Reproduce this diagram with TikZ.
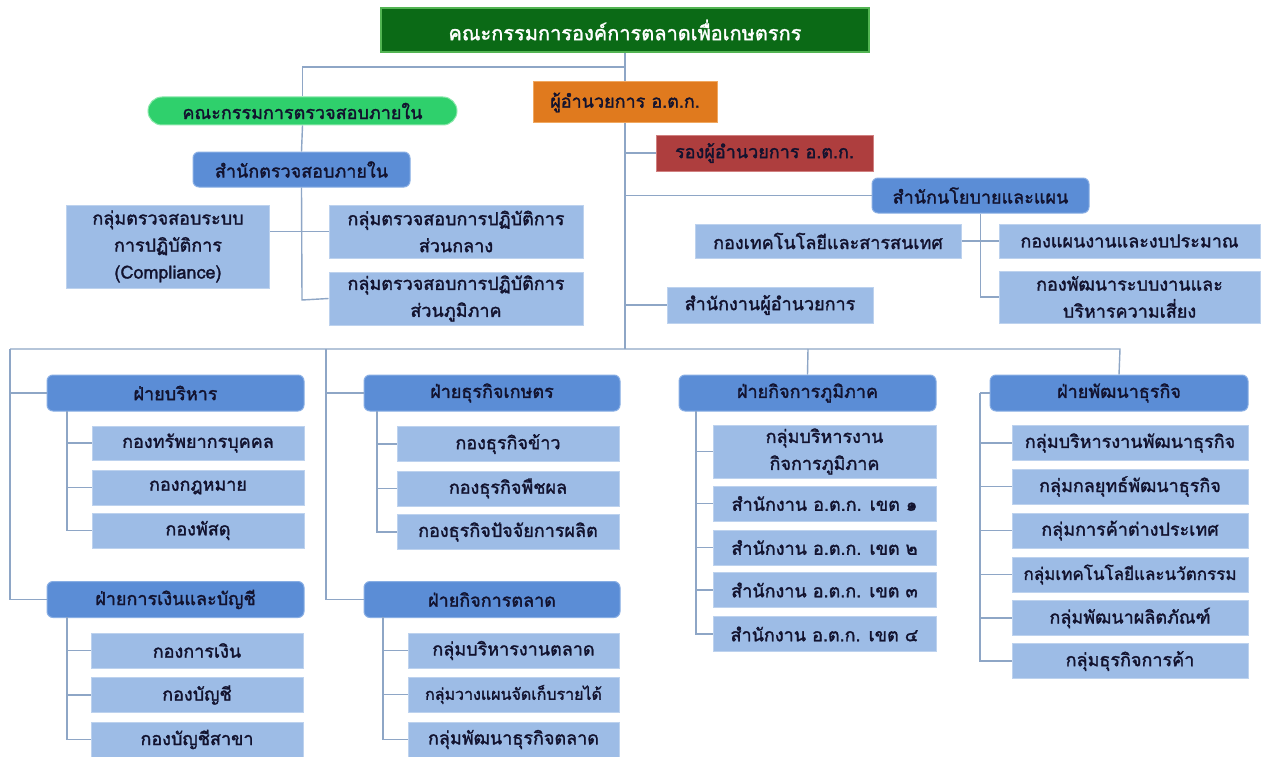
\documentclass[tikz,border=0pt]{standalone}
\usepackage{fontspec}
\newfontfamily\thaifont[Script=Thai, FakeBold=1.6]{Loma}
\definecolor{topg}{HTML}{0B6A16}
\definecolor{topgb}{HTML}{52B452}
\definecolor{pillg}{HTML}{2FD06C}
\definecolor{pillgb}{HTML}{8CE8AC}
\definecolor{orng}{HTML}{E07A1E}
\definecolor{orngb}{HTML}{F0A860}
\definecolor{redb}{HTML}{AE3E3E}
\definecolor{redbb}{HTML}{D08080}
\definecolor{headb}{HTML}{5B8DD6}
\definecolor{headbb}{HTML}{88AEE4}
\definecolor{lightb}{HTML}{9DBCE6}
\definecolor{lightbb}{HTML}{BDD2EE}
\definecolor{linec}{HTML}{8EA6C6}
\definecolor{txt}{HTML}{12122E}
\tikzset{
  base/.style={inner sep=0pt, align=center, text=txt, font=\thaifont\fontsize{18}{27}\selectfont, line width=1pt},
  lb/.style={base, fill=lightb, draw=lightbb},
  hb/.style={base, fill=headb, draw=headbb, rounded corners=6pt},
  ln/.style={draw=linec, line width=1.4pt},
}
\begin{document}
\begin{tikzpicture}[x=1pt,y=-1pt]
\useasboundingbox[fill=white] (0,0) rectangle (1268,757);
% top level
\node[base, fill=topg, draw=topgb, line width=2pt, text=white, minimum width=488, minimum height=44, font=\thaifont\fontsize{20}{24}\selectfont] (top) at (625,30) {คณะกรรมการองค์การตลาดเพื่อเกษตรกร};
\node[base, fill=pillg, draw=pillgb, rounded corners=14pt, minimum width=309, minimum height=28] (pill) at (302.5,111) {คณะกรรมการตรวจสอบภายใน};
\node[base, fill=orng, draw=orngb, minimum width=184, minimum height=41] (dir) at (625,102.5) {ผู้อำนวยการ อ.ต.ก.};
\node[base, fill=redb, draw=redbb, minimum width=217, minimum height=36] (dep) at (764.5,153) {รองผู้อำนวยการ อ.ต.ก.};
\node[hb, minimum width=217, minimum height=35] (aud) at (301.5,169.5) {สำนักตรวจสอบภายใน};
\node[lb, minimum width=203, minimum height=83] (comp) at (168,246.5) {กลุ่มตรวจสอบระบบ\\การปฏิบัติการ\\(Compliance)};
\node[lb, minimum width=254, minimum height=53] (cen) at (456,231.5) {กลุ่มตรวจสอบการปฏิบัติการ\\ส่วนกลาง};
\node[lb, minimum width=254, minimum height=53] (reg) at (456,298.5) {กลุ่มตรวจสอบการปฏิบัติการ\\ส่วนภูมิภาค};
\node[hb, minimum width=217, minimum height=35] (pol) at (980.5,195.5) {สำนักนโยบายและแผน};
\node[lb, minimum width=266, minimum height=34] (tech) at (828,241) {กองเทคโนโลยีและสารสนเทศ};
\node[lb, minimum width=261, minimum height=34] (plan) at (1129.5,241) {กองแผนงานและงบประมาณ};
\node[lb, minimum width=261, minimum height=52] (risk) at (1129.5,297) {กองพัฒนาระบบงานและ\\บริหารความเสี่ยง};
\node[lb, minimum width=206, minimum height=36] (dof) at (770,305) {สำนักงานผู้อำนวยการ};
% divisions
\node[hb, minimum width=257, minimum height=36] (adm) at (175.5,393) {ฝ่ายบริหาร};
\node[lb, minimum width=212, minimum height=34] (a1) at (198,443) {กองทรัพยากรบุคคล};
\node[lb, minimum width=212, minimum height=35] (a2) at (198,487.5) {กองกฎหมาย};
\node[lb, minimum width=212, minimum height=35] (a3) at (198,530.5) {กองพัสดุ};
\node[hb, minimum width=257, minimum height=36] (fin) at (175.5,599.5) {ฝ่ายการเงินและบัญชี};
\node[lb, minimum width=212, minimum height=35] (f1) at (197,650.5) {กองการเงิน};
\node[lb, minimum width=212, minimum height=35] (f2) at (197,695) {กองบัญชี};
\node[lb, minimum width=212, minimum height=35] (f3) at (197,739.5) {กองบัญชีสาขา};
\node[hb, minimum width=256, minimum height=36] (agr) at (492,393) {ฝ่ายธุรกิจเกษตร};
\node[lb, minimum width=222, minimum height=35] (g1) at (508,444) {กองธุรกิจข้าว};
\node[lb, minimum width=222, minimum height=35] (g2) at (508,488.5) {กองธุรกิจพืชผล};
\node[lb, minimum width=222, minimum height=35] (g3) at (508,532) {กองธุรกิจปัจจัยการผลิต};
\node[hb, minimum width=256, minimum height=36] (mkt) at (492,599.5) {ฝ่ายกิจการตลาด};
\node[lb, minimum width=211, minimum height=35] (m1) at (513.5,650.5) {กลุ่มบริหารงานตลาด};
\node[lb, minimum width=211, minimum height=35, font=\thaifont\fontsize{16}{20}\selectfont] (m2) at (513.5,694.5) {กลุ่มวางแผนจัดเก็บรายได้};
\node[lb, minimum width=211, minimum height=35] (m3) at (513.5,739.5) {กลุ่มพัฒนาธุรกิจตลาด};
\node[hb, minimum width=257, minimum height=36] (rgn) at (807.5,393) {ฝ่ายกิจการภูมิภาค};
\node[lb, minimum width=223, minimum height=53] (r0) at (824.5,451.5) {กลุ่มบริหารงาน\\กิจการภูมิภาค};
\node[lb, minimum width=223, minimum height=35] (r1) at (824.5,503.5) {สำนักงาน อ.ต.ก. เขต ๑};
\node[lb, minimum width=223, minimum height=35] (r2) at (824.5,547.5) {สำนักงาน อ.ต.ก. เขต ๒};
\node[lb, minimum width=223, minimum height=35] (r3) at (824.5,590) {สำนักงาน อ.ต.ก. เขต ๓};
\node[lb, minimum width=223, minimum height=35] (r4) at (824.5,634) {สำนักงาน อ.ต.ก. เขต ๔};
\node[hb, minimum width=258, minimum height=36] (dev) at (1119,393) {ฝ่ายพัฒนาธุรกิจ};
\node[lb, minimum width=236, minimum height=35] (d1) at (1130,443) {กลุ่มบริหารงานพัฒนาธุรกิจ};
\node[lb, minimum width=236, minimum height=35] (d2) at (1130,486.5) {กลุ่มกลยุทธ์พัฒนาธุรกิจ};
\node[lb, minimum width=236, minimum height=35] (d3) at (1130,530.5) {กลุ่มการค้าต่างประเทศ};
\node[lb, minimum width=236, minimum height=35, font=\thaifont\fontsize{17}{20}\selectfont] (d4) at (1130,574.5) {กลุ่มเทคโนโลยีและนวัตกรรม};
\node[lb, minimum width=236, minimum height=35] (d5) at (1130,618) {กลุ่มพัฒนาผลิตภัณฑ์};
\node[lb, minimum width=236, minimum height=35] (d6) at (1130,661) {กลุ่มธุรกิจการค้า};
% junctions
\coordinate (j1) at (625,67);
\coordinate (jm) at (625,349);
\coordinate (jl) at (10,349);
\coordinate (j2) at (326,349);
\coordinate (j3) at (808,349);
\coordinate (j4) at (1120,349);
\coordinate (ja) at (302,300);
\coordinate (sa) at (67,411);
\coordinate (sf) at (67,617);
\coordinate (sg) at (377,411);
\coordinate (sm) at (383,617);
\coordinate (sr) at (696,411);
\coordinate (sd) at (980,393);
% connectors
\draw[ln] (top.south) -- (dir.north);
\draw[ln] (j1) -| (pill.north);
\draw[ln] (pill.south) -- (aud.north);
\draw[ln] (aud.south) -- (ja) -- (reg.west);
\draw[ln] (comp.east |- cen.west) -- (cen.west);
\draw[ln] (dir.south) -- (jm);
\draw[ln] (dir.south |- dep.west) -- (dep.west);
\draw[ln] (dir.south |- pol.west) -- (pol.west);
\draw[ln] (dir.south |- dof.west) -- (dof.west);
\draw[ln] (pol.south) |- (risk.west);
\draw[ln] (tech.east) -- (plan.west);
\draw[ln] (jl) -- (j4) -- (dev.north);
\draw[ln] (jl) |- (adm.west);
\draw[ln] (jl) |- (fin.west);
\draw[ln] (j2) |- (agr.west);
\draw[ln] (j2) |- (mkt.west);
\draw[ln] (j3) -- (rgn.north);
\foreach \c in {a1,a2,a3} \draw[ln] (sa) |- (\c.west);
\foreach \c in {f1,f2,f3} \draw[ln] (sf) |- (\c.west);
\foreach \c in {g1,g2,g3} \draw[ln] (sg) |- (\c.west);
\foreach \c in {m1,m2,m3} \draw[ln] (sm) |- (\c.west);
\foreach \c in {r0,r1,r2,r3,r4} \draw[ln] (sr) |- (\c.west);
\draw[ln] (dev.west) -- (sd);
\foreach \c in {d1,d2,d3,d4,d5,d6} \draw[ln] (sd) |- (\c.west);
\end{tikzpicture}
\end{document}
